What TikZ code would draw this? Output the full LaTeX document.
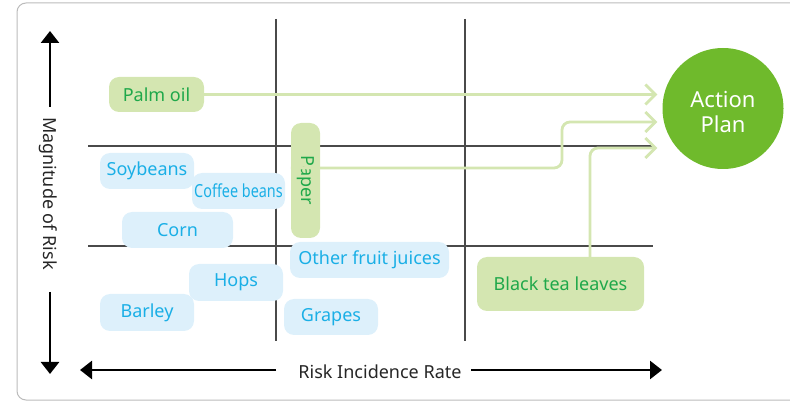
\documentclass[tikz,border=0pt]{standalone}
\usepackage{fontspec}
\setmainfont{Noto Sans}
\newfontfamily\condfont[FakeStretch=0.8]{Noto Sans}
\usetikzlibrary{arrows.meta}
\definecolor{gfill}{HTML}{D4E6B1}
\definecolor{gtext}{HTML}{1FA84A}
\definecolor{bfill}{HTML}{DDF0FB}
\definecolor{btext}{HTML}{1AAFE6}
\definecolor{cgreen}{HTML}{6FBA2C}
\definecolor{gridc}{HTML}{4A4A4A}
\definecolor{frame}{HTML}{BBBBBB}
\tikzset{
  gbox/.style={fill=gfill, text=gtext, rounded corners=10pt, inner sep=0pt, font=\fontsize{18}{21}\selectfont},
  bbox/.style={fill=bfill, text=btext, rounded corners=10pt, inner sep=0pt, font=\fontsize{18}{21}\selectfont},
  gridline/.style={draw=gridc, line width=1.1pt},
  conn/.style={draw=gfill, line width=2.8pt, rounded corners=8pt, -{Straight Barb[length=10pt,width=20pt]}},
  axarrow/.style={draw=black, line width=2.6pt, -{Triangle[length=12pt,width=18pt]}},
  axlabel/.style={text=black!85, font=\fontsize{18}{21}\selectfont, inner sep=0pt}
}
\begin{document}
\begin{tikzpicture}[x=1pt,y=-1pt]
\useasboundingbox (0,0) rectangle (790,403);
% frame
\draw[frame, line width=1pt, rounded corners=9pt] (810,3) -- (17,3) -- (17,400) -- (810,400);
% grid
\draw[gridline] (276,19) -- (276,341);
\draw[gridline] (465,19) -- (465,341);
\draw[gridline] (88,146) -- (653,146);
\draw[gridline] (88,246) -- (653,246);
% axes
\node[axlabel, rotate=-90] (ylab) at (48,193.5) {Magnitude of Risk};
\node[axlabel] (xlab) at (380,372) {Risk Incidence Rate};
\coordinate (ya) at (50,107);
\coordinate (yb) at (50,31);
\coordinate (yc) at (50,292);
\coordinate (yd) at (50,374);
\coordinate (xa) at (276,370);
\coordinate (xb) at (80,370);
\coordinate (xc) at (471,370);
\coordinate (xd) at (662,370);
\draw[axarrow] (ya) -- (yb);
\draw[axarrow] (yc) -- (yd);
\draw[axarrow] (xa) -- (xb);
\draw[axarrow] (xc) -- (xd);
% nodes
\node[gbox, minimum width=95pt, minimum height=35pt] (palm) at (156.5,94.5) {Palm oil};
\node[gbox, rotate=-90, minimum width=115pt, minimum height=29pt] (paper) at (305.5,180.5) {Paper};
\node[gbox, minimum width=167pt, minimum height=54pt] (tea) at (560.5,284) {Black tea leaves};
\node[bbox, minimum width=94pt, minimum height=36pt] (soy) at (147,171) {Soybeans};
\node[bbox, minimum width=93pt, minimum height=36pt] (coffee) at (238.5,191) {\condfont Coffee beans};
\node[bbox, minimum width=111pt, minimum height=36pt] (corn) at (177.5,230) {Corn};
\node[bbox, minimum width=159pt, minimum height=36pt] (ofj) at (369.5,260) {Other fruit juices};
\node[bbox, minimum width=94pt, minimum height=37pt] (hops) at (236,282.5) {Hops};
\node[bbox, minimum width=94pt, minimum height=37pt] (barley) at (147,312.5) {Barley};
\node[bbox, minimum width=94pt, minimum height=36pt] (grapes) at (331,317) {Grapes};
\node[circle, fill=cgreen, text=white, minimum size=121pt, inner sep=0pt, align=center,
      font=\fontsize{22}{25}\selectfont] (action) at (723,108.5) {\rule{0pt}{24pt}Action\\Plan};
% connectors
\draw[conn] (palm.east) -- ([xshift=-5pt,yshift=14pt]action.west);
\draw[conn] ([yshift=12.5pt]paper.south) -- (562,168) -- (562,122) -- ([xshift=-5pt,yshift=-13.5pt]action.west);
\draw[conn] ([xshift=29.5pt]tea.north) -- (590,148) -- ([xshift=-5pt,yshift=-39.5pt]action.west);
\end{tikzpicture}
\end{document}
